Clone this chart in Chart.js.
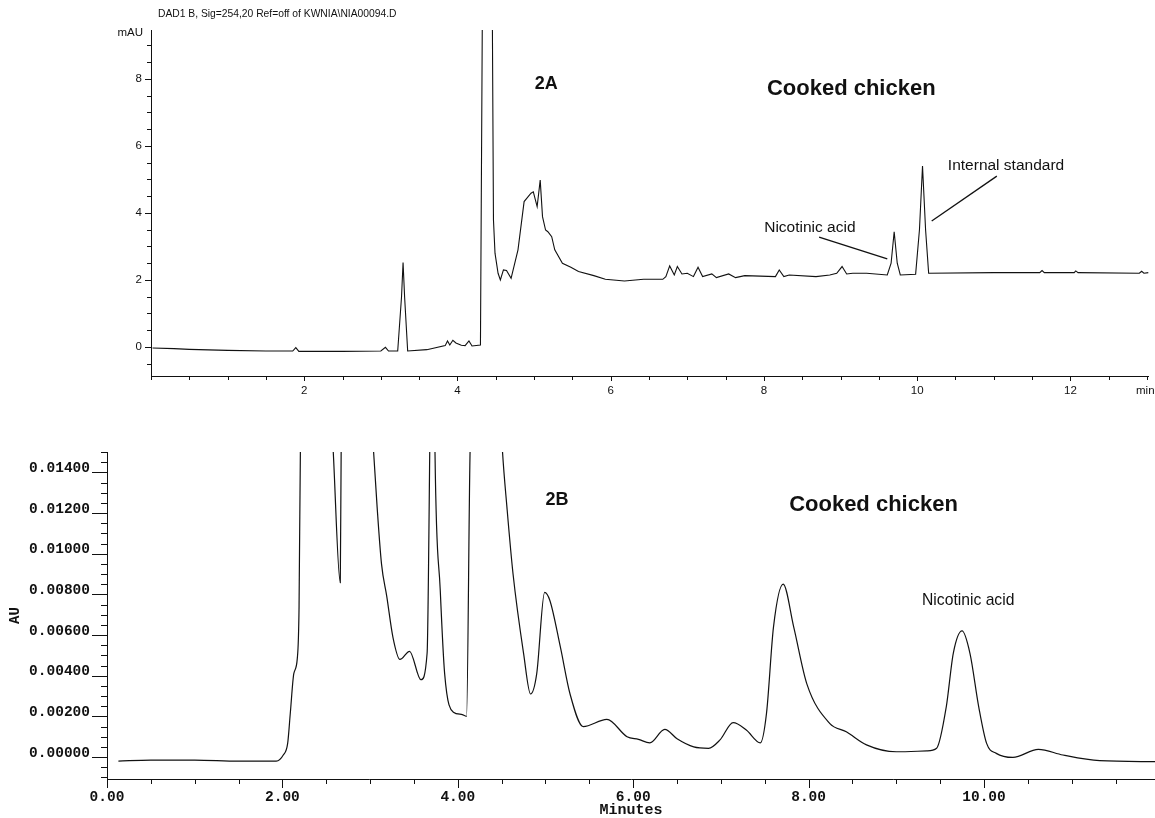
<!DOCTYPE html>
<html>
<head>
<meta charset="utf-8">
<script src="https://cdn.jsdelivr.net/npm/chart.js@4.4.1/dist/chart.umd.min.js"></script>
<style>
  html, body { margin: 0; padding: 0; background: #fff; }
  #wrap { position: relative; width: 1155px; height: 818px; overflow: hidden; }
  canvas { position: absolute; left: 0; }
  #topChart { top: 0; }
  #bottomChart { top: 410px; }
</style>
</head>
<body>
<div id="wrap">
  <canvas id="topChart" width="1155" height="410"></canvas>
  <canvas id="bottomChart" width="1155" height="408"></canvas>
</div>
<script>
// ---- 2A: DAD signal, mAU vs min ----
const topTime = [0.02, 0.3, 0.5, 1.0, 1.5, 1.85, 1.89, 1.93, 2.5, 3.0, 3.06, 3.1, 3.22, 3.27, 3.29, 3.31, 3.35,
  3.6, 3.84, 3.87, 3.9, 3.94, 3.98, 4.05, 4.1, 4.15, 4.19, 4.3, 4.33, 4.39, 4.45, 4.47, 4.49, 4.53, 4.56,
  4.6, 4.64, 4.7, 4.79, 4.87, 4.96, 4.99, 5.04, 5.08, 5.11, 5.15, 5.18, 5.23, 5.27, 5.37, 5.48, 5.58,
  5.78, 5.93, 6.18, 6.43, 6.68, 6.72, 6.77, 6.83, 6.87, 6.93, 7.0, 7.08, 7.14, 7.2, 7.32, 7.38, 7.54,
  7.63, 7.75, 8.15, 8.2, 8.26, 8.33, 8.68, 8.86, 8.95, 9.02, 9.08, 9.16, 9.34, 9.61, 9.66, 9.70, 9.74,
  9.78, 9.98, 10.03, 10.07, 10.11, 10.15, 11.0, 11.6, 11.63, 11.66, 12.05, 12.07, 12.1, 12.9, 12.93, 12.96, 13.02];
const topSignal = [-0.03, -0.05, -0.07, -0.1, -0.12, -0.12, -0.02, -0.13, -0.13, -0.12, -0.01, -0.12, -0.12, 1.5, 2.52, 1.5, -0.12,
  -0.08, 0.04, 0.18, 0.06, 0.2, 0.12, 0.05, 0.04, 0.18, 0.03, 0.06, 12, 40, 12, 3.79, 2.8, 2.2, 2.0,
  2.3, 2.28, 2.05, 2.9, 4.34, 4.59, 4.63, 4.19, 4.98, 3.89, 3.49, 3.44, 3.29, 2.9, 2.5, 2.38, 2.25,
  2.13, 2.02, 1.97, 2.02, 2.02, 2.1, 2.42, 2.15, 2.4, 2.18, 2.2, 2.1, 2.38, 2.1, 2.18, 2.07, 2.18,
  2.07, 2.13, 2.1, 2.3, 2.1, 2.15, 2.1, 2.15, 2.2, 2.4, 2.18, 2.2, 2.2, 2.15, 2.5, 3.44, 2.5,
  2.15, 2.17, 3.5, 5.40, 3.5, 2.2, 2.22, 2.22, 2.28, 2.22, 2.22, 2.27, 2.22, 2.2, 2.26, 2.2, 2.22];
const topMajorX = [2, 4, 6, 8, 10, 12];
const topMajorY = [0, 2, 4, 6, 8];

// ---- 2B: AU vs Minutes ----
const bottomTime = [0.13, 0.5, 1.0, 1.5, 1.93, 2.01, 2.06, 2.09, 2.13, 2.17, 2.19, 2.205, 2.40, 2.58, 2.66, 2.67, 2.85,
  3.04, 3.08, 3.13, 3.19, 3.26, 3.34, 3.45, 3.58, 3.65, 3.68, 3.71, 3.74, 3.80, 3.85, 3.95, 4.04, 4.10,
  4.14, 4.33, 4.51, 4.56, 4.63, 4.75, 4.83, 4.90, 4.99, 5.05, 5.17, 5.28, 5.43, 5.70, 5.93, 6.06, 6.19,
  6.36, 6.50, 6.69, 6.86, 6.99, 7.14, 7.29, 7.45, 7.52, 7.60, 7.71, 7.83, 7.98, 8.24, 8.43, 8.66, 9.0,
  9.35, 9.46, 9.57, 9.65, 9.75, 9.84, 9.94, 10.03, 10.14, 10.33, 10.62, 10.9, 11.32, 11.95];
const bottomSignal = [-0.0002, -0.00015, -0.00015, -0.0002, -0.0002, 0.0001, 0.00067, 0.00215, 0.0041, 0.00485, 0.0074, 0.015, 0.03, 0.015, 0.00857, 0.015, 0.03,
  0.015, 0.0123, 0.0095, 0.0079, 0.0059, 0.0048, 0.0052, 0.0038, 0.0051, 0.015, 0.03, 0.015, 0.0082, 0.0041, 0.0022, 0.0021, 0.002,
  0.015, 0.03, 0.015, 0.0123, 0.009, 0.0051, 0.0031, 0.0041, 0.0081, 0.0077, 0.0054, 0.0031, 0.0015, 0.00185, 0.001, 0.00087, 0.0007,
  0.00136, 0.0009, 0.0005, 0.00043, 0.00084, 0.00169, 0.00133, 0.0007, 0.00215, 0.0064, 0.0085, 0.0064, 0.0036, 0.00166, 0.00124, 0.0006, 0.00026,
  0.0003, 0.00043, 0.00247, 0.0051, 0.0062, 0.0051, 0.00247, 0.00067, 0.00018, -0.00002, 0.00038, 0.0001, -0.00018, -0.00023];
const bottomMajorX = [0, 2, 4, 6, 8, 10];
const bottomMajorY = [0, 0.002, 0.004, 0.006, 0.008, 0.010, 0.012, 0.014];

const near = (list, v, eps) => list.some(m => Math.abs(m - v) < eps);

// draws tick marks, minor ones short, major ones long
const tickMarks = {
  id: 'tickMarks',
  afterDraw(chart, args, o) {
    const ctx = chart.ctx;
    const xs = chart.scales.x, ys = chart.scales.y;
    ctx.save();
    ctx.strokeStyle = '#111';
    ctx.lineWidth = 1;
    ctx.beginPath();
    xs.ticks.forEach(t => {
      const p = Math.round(xs.getPixelForValue(t.value)) + 0.5;
      const len = near(o.majorX, t.value, o.epsX) ? o.xMajor : o.xMinor;
      ctx.moveTo(p, xs.top);
      ctx.lineTo(p, xs.top + len);
    });
    ys.ticks.forEach(t => {
      const p = Math.round(ys.getPixelForValue(t.value)) + 0.5;
      const len = near(o.majorY, t.value, o.epsY) ? o.yMajor : o.yMinor;
      ctx.moveTo(ys.right, p);
      ctx.lineTo(ys.right - len, p);
    });
    ctx.stroke();
    ctx.restore();
  }
};

// free text and leader lines, anchored in data units
const notes = {
  id: 'notes',
  afterDraw(chart, args, o) {
    const ctx = chart.ctx;
    const xs = chart.scales.x, ys = chart.scales.y;
    ctx.save();
    ctx.fillStyle = '#111';
    ctx.strokeStyle = '#111';
    (o.texts || []).forEach(n => {
      ctx.font = n.font;
      ctx.textAlign = n.align || 'center';
      ctx.textBaseline = 'middle';
      const x = n.px !== undefined ? n.px : xs.getPixelForValue(n.x);
      const y = n.py !== undefined ? n.py : ys.getPixelForValue(n.y);
      ctx.fillText(n.text, x, y);
    });
    (o.lines || []).forEach(l => {
      ctx.lineWidth = 1.3;
      ctx.beginPath();
      ctx.moveTo(xs.getPixelForValue(l[0]), ys.getPixelForValue(l[1]));
      ctx.lineTo(xs.getPixelForValue(l[2]), ys.getPixelForValue(l[3]));
      ctx.stroke();
    });
    ctx.restore();
  }
};

const sans = '"Liberation Sans", Arial, sans-serif';
const mono = '"Liberation Mono", "Courier New", monospace';

new Chart(document.getElementById('topChart'), {
  type: 'line',
  data: {
    labels: topTime,
    datasets: [{
      data: topTime.map((t, i) => ({ x: t, y: topSignal[i] })),
      borderColor: '#111',
      borderWidth: 1.1,
      pointRadius: 0,
      tension: 0,
      fill: false
    }]
  },
  options: {
    responsive: false,
    animation: false,
    devicePixelRatio: 1,
    layout: { padding: { top: 30, left: 0, right: 0, bottom: 0 } },
    plugins: {
      legend: { display: false },
      tooltip: { enabled: false },
      tickMarks: { majorX: topMajorX, majorY: topMajorY, epsX: 0.01, epsY: 0.01, xMajor: 5, xMinor: 4, yMajor: 6, yMinor: 4 },
      notes: {
        texts: [
          { text: 'DAD1 B, Sig=254,20 Ref=off of KWNIA\\NIA00094.D', px: 158, py: 14, align: 'left', font: '10.3px ' + sans },
          { text: 'mAU', px: 143, py: 33, align: 'right', font: '11.5px ' + sans },
          { text: 'min', px: 1136, py: 391, align: 'left', font: '11.5px ' + sans },
          { text: '2A', x: 5.16, y: 7.85, font: 'bold 18px ' + sans },
          { text: 'Cooked chicken', x: 9.14, y: 7.70, font: 'bold 22px ' + sans },
          { text: 'Internal standard', x: 11.16, y: 5.40, font: '15.5px ' + sans },
          { text: 'Nicotinic acid', x: 8.60, y: 3.55, font: '15.5px ' + sans }
        ],
        lines: [
          [8.72, 3.28, 9.61, 2.63],
          [11.04, 5.10, 10.19, 3.76]
        ]
      }
    },
    scales: {
      x: {
        type: 'linear', min: 0, max: 13.02,
        afterFit: s => { s.height = 34; },
        grid: { drawOnChartArea: false, drawTicks: false },
        border: { color: '#111', width: 1 },
        ticks: {
          stepSize: 0.5, includeBounds: false, autoSkip: false, maxRotation: 0, padding: 8,
          color: '#111', font: { family: sans, size: 11.5 },
          callback: v => near(topMajorX, v, 0.01) ? String(v) : ''
        }
      },
      y: {
        type: 'linear', min: -0.866, max: 9.46,
        afterFit: s => { s.width = 151; },
        grid: { drawOnChartArea: false, drawTicks: false },
        border: { color: '#111', width: 1 },
        ticks: {
          stepSize: 0.5, includeBounds: false, autoSkip: false, padding: 9,
          color: '#111', font: { family: sans, size: 11.5 },
          callback: v => near(topMajorY, v, 0.01) ? String(v) : ''
        }
      }
    }
  },
  plugins: [tickMarks, notes]
});

new Chart(document.getElementById('bottomChart'), {
  type: 'line',
  data: {
    labels: bottomTime,
    datasets: [{
      data: bottomTime.map((t, i) => ({ x: t, y: bottomSignal[i] })),
      borderColor: '#111',
      borderWidth: 1.2,
      pointRadius: 0,
      cubicInterpolationMode: 'monotone',
      fill: false
    }]
  },
  options: {
    responsive: false,
    animation: false,
    devicePixelRatio: 1,
    layout: { padding: { top: 42, left: 0, right: 0, bottom: 0 } },
    plugins: {
      legend: { display: false },
      tooltip: { enabled: false },
      tickMarks: { majorX: bottomMajorX, majorY: bottomMajorY, epsX: 0.01, epsY: 0.00001, xMajor: 9, xMinor: 5, yMajor: 15, yMinor: 6 },
      notes: {
        texts: [
          { text: '2B', x: 5.13, y: 0.01263, font: 'bold 18px ' + sans },
          { text: 'Cooked chicken', x: 8.74, y: 0.01238, font: 'bold 22px ' + sans },
          { text: 'Nicotinic acid', x: 9.82, y: 0.00768, font: '15.7px ' + sans }
        ]
      }
    },
    scales: {
      x: {
        type: 'linear', min: 0, max: 11.95,
        afterFit: s => { s.height = 39; },
        grid: { drawOnChartArea: false, drawTicks: false },
        border: { color: '#111', width: 1 },
        title: { display: true, text: 'Minutes', color: '#111', padding: { top: 0, bottom: 0 },
          font: { family: mono, size: 15, weight: 'bold', lineHeight: 1.0 } },
        ticks: {
          stepSize: 0.5, includeBounds: false, autoSkip: false, maxRotation: 0, padding: 10,
          color: '#111', font: { family: mono, size: 14.5, weight: 'bold' },
          callback: v => near(bottomMajorX, v, 0.01) ? v.toFixed(2) : ''
        }
      },
      y: {
        type: 'linear', min: -0.00108, max: 0.015,
        afterFit: s => { s.width = 107; },
        grid: { drawOnChartArea: false, drawTicks: false },
        border: { color: '#111', width: 1 },
        title: { display: true, text: 'AU', color: '#111', padding: { top: 7, bottom: 0 },
          font: { family: mono, size: 14, weight: 'bold' } },
        ticks: {
          stepSize: 0.0005, includeBounds: false, autoSkip: false, padding: 17, labelOffset: -4,
          color: '#111', font: { family: mono, size: 14.5, weight: 'bold' },
          callback: v => near(bottomMajorY, v, 0.00001) ? v.toFixed(5) : ''
        }
      }
    }
  },
  plugins: [tickMarks, notes]
});
</script>
</body>
</html>
